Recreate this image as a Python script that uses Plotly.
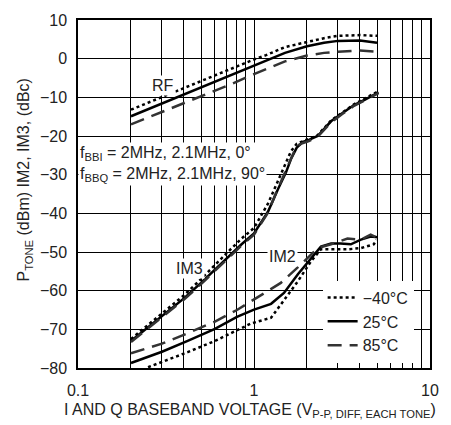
import math
import plotly.graph_objects as go

# RF output power vs baseband voltage
rf_x = [0.2, 0.3, 0.5, 0.74, 1.0, 1.17, 1.5, 2.0, 2.5, 3.0, 4.0, 5.0]
rf_m40 = [-13.2, -9.9, -5.7, -2.6, -0.2, 0.9, 3.0, 4.3, 5.3, 5.9, 6.1, 5.9]
rf_25 = [-14.9, -11.6, -7.4, -4.2, -1.7, -0.4, 1.5, 3.2, 4.1, 4.6, 4.7, 4.1]
rf_85 = [-17.0, -13.8, -9.7, -6.6, -4.0, -2.7, -0.7, 0.8, 1.5, 1.8, 2.1, 1.8]

# IM3
im3_x = [0.2, 0.3, 0.4, 0.5, 0.6, 0.7, 0.85, 1.0, 1.2, 1.37, 1.52, 1.62, 1.75,
         1.9, 2.05, 2.3, 2.74, 3.2, 3.7, 4.3, 5.1]
im3_m40 = [-72.5, -66.0, -61.2, -57.0, -53.5, -50.3, -46.5, -43.8, -37.5, -31.5, -27.0,
           -24.0, -22.0, -21.3, -20.8, -19.8, -16.0, -13.8, -11.8, -10.2, -8.4]
im3_25 = [-73.0, -66.5, -62.0, -58.0, -54.5, -51.5, -48.0, -45.2, -39.6, -33.7, -29.4,
          -26.0, -23.0, -21.5, -21.0, -20.0, -16.2, -14.0, -12.0, -10.5, -8.7]
im3_85 = [-73.3, -66.8, -62.3, -58.3, -54.8, -51.8, -48.3, -45.5, -39.8, -33.5, -29.0,
          -25.8, -22.5, -21.8, -21.3, -20.2, -16.5, -14.2, -12.2, -10.7, -8.9]

# IM2
im2_m40_x = [0.25, 0.42, 0.6, 0.8, 0.96, 1.25, 1.48, 1.78, 2.11, 2.4, 2.85, 3.4, 4.05, 4.8, 4.95]
im2_m40 = [-79.8, -75.9, -73.0, -70.3, -68.5, -67.0, -62.6, -57.5, -52.4, -49.3, -49.3,
           -49.3, -49.0, -48.0, -46.8]
im2_25_x = [0.2, 0.3, 0.42, 0.6, 0.8, 1.0, 1.25, 1.48, 1.78, 2.11, 2.4, 2.74, 3.1, 3.55,
            4.05, 4.6, 5.05]
im2_25 = [-78.7, -75.8, -73.0, -69.9, -66.8, -64.9, -63.4, -60.6, -55.7, -51.6, -48.6,
          -47.8, -47.8, -48.0, -46.8, -46.0, -46.2]
im2_85_x = [0.2, 0.3, 0.42, 0.6, 0.8, 1.03, 1.42, 1.85, 2.3, 2.74, 3.4, 4.05, 4.6, 5.1]
im2_85 = [-76.2, -73.7, -71.0, -68.0, -65.0, -62.0, -58.0, -53.2, -49.0, -48.0, -46.5,
          -46.8, -45.5, -46.5]

x_ticks = [0.1, 0.2, 0.3, 0.4, 0.5, 0.6, 0.7, 0.8, 0.9, 1, 2, 3, 4, 5, 6, 7, 8, 9, 10]
x_labels = ['0.1', '', '', '', '', '', '', '', '', '1', '', '', '', '', '', '', '', '', '10']

FONT = 'Liberation Sans Narrow, Arial Narrow, Liberation Sans, sans-serif'

styles = {
    '\u221240°C': dict(color='black', width=2.5, dash='dot'),
    '25°C': dict(color='black', width=2.5, dash='solid'),
    '85°C': dict(color='#333333', width=2.5, dash='14px,8px'),
}

curves = [
    ('\u221240°C', rf_x, rf_m40, im3_x, im3_m40, im2_m40_x, im2_m40),
    ('25°C', rf_x, rf_25, im3_x, im3_25, im2_25_x, im2_25),
    ('85°C', rf_x, rf_85, im3_x, im3_85, im2_85_x, im2_85),
]

fig = go.Figure()
for name, rx, ry, ix3, iy3, ix2, iy2 in curves:
    for i, (xx, yy) in enumerate([(rx, ry), (ix3, iy3), (ix2, iy2)]):
        fig.add_trace(go.Scatter(x=xx, y=yy, mode='lines', name=name,
                                 line=styles[name], legendgroup=name,
                                 showlegend=(i == 0)))

lbl = dict(showarrow=False, bgcolor='white', borderpad=1,
           font=dict(family=FONT, size=16, color='#222'))
fig.add_annotation(x=math.log10(0.304), y=-6.9, text='RF', **lbl)
fig.add_annotation(x=math.log10(0.43), y=-54.2, text='IM3', **lbl)
fig.add_annotation(x=math.log10(1.46), y=-51.1, text='IM2', **lbl)
fig.add_annotation(x=-1, y=-27.2, xanchor='left', align='left',
                   text='f<sub>BBI</sub> = 2MHz, 2.1MHz, 0°<br>'
                        'f<sub>BBQ</sub> = 2MHz, 2.1MHz, 90°', **lbl)

# axis titles as annotations
fig.add_annotation(xref='paper', yref='paper', x=-0.185, y=0.54, textangle=-90,
                   text='P<sub>TONE</sub> (dBm) IM2, IM3, (dBc)', showarrow=False,
                   font=dict(family=FONT, size=16, color='#222'))
fig.add_annotation(xref='paper', yref='paper', x=0.49, y=-0.122, yanchor='middle',
                   text='I AND Q BASEBAND VOLTAGE (V<sub>P-P, DIFF, EACH TONE</sub>)',
                   showarrow=False, font=dict(family=FONT, size=16, color='#222'))

fig.update_xaxes(type='log', range=[-1, 1], tickvals=x_ticks, ticktext=x_labels,
                 showgrid=True, gridcolor='black', gridwidth=1, zeroline=False,
                 showline=True, linecolor='black', linewidth=1.5, mirror=True,
                 ticks='', ticklabelstandoff=7,
                 tickfont=dict(family=FONT, size=16, color='#222'))
fig.update_yaxes(range=[-80, 10], dtick=10, showgrid=True, gridcolor='black',
                 gridwidth=1, zeroline=False, showline=True, linecolor='black',
                 linewidth=1.5, mirror=True, ticks='', ticklabelstandoff=6,
                 tickfont=dict(family=FONT, size=16, color='#222'))

fig.update_layout(
    width=451, height=425,
    margin=dict(l=78, r=21, t=16, b=57),
    plot_bgcolor='white', paper_bgcolor='white',
    showlegend=True,
    legend=dict(x=0.695, y=0.251, xanchor='left', yanchor='top', bgcolor='white',
                font=dict(family=FONT, size=16, color='#222'), tracegroupgap=0),
)

fig.write_html("out.html", config={'displayModeBar': False},
               post_script="document.body.style.margin='0';")
